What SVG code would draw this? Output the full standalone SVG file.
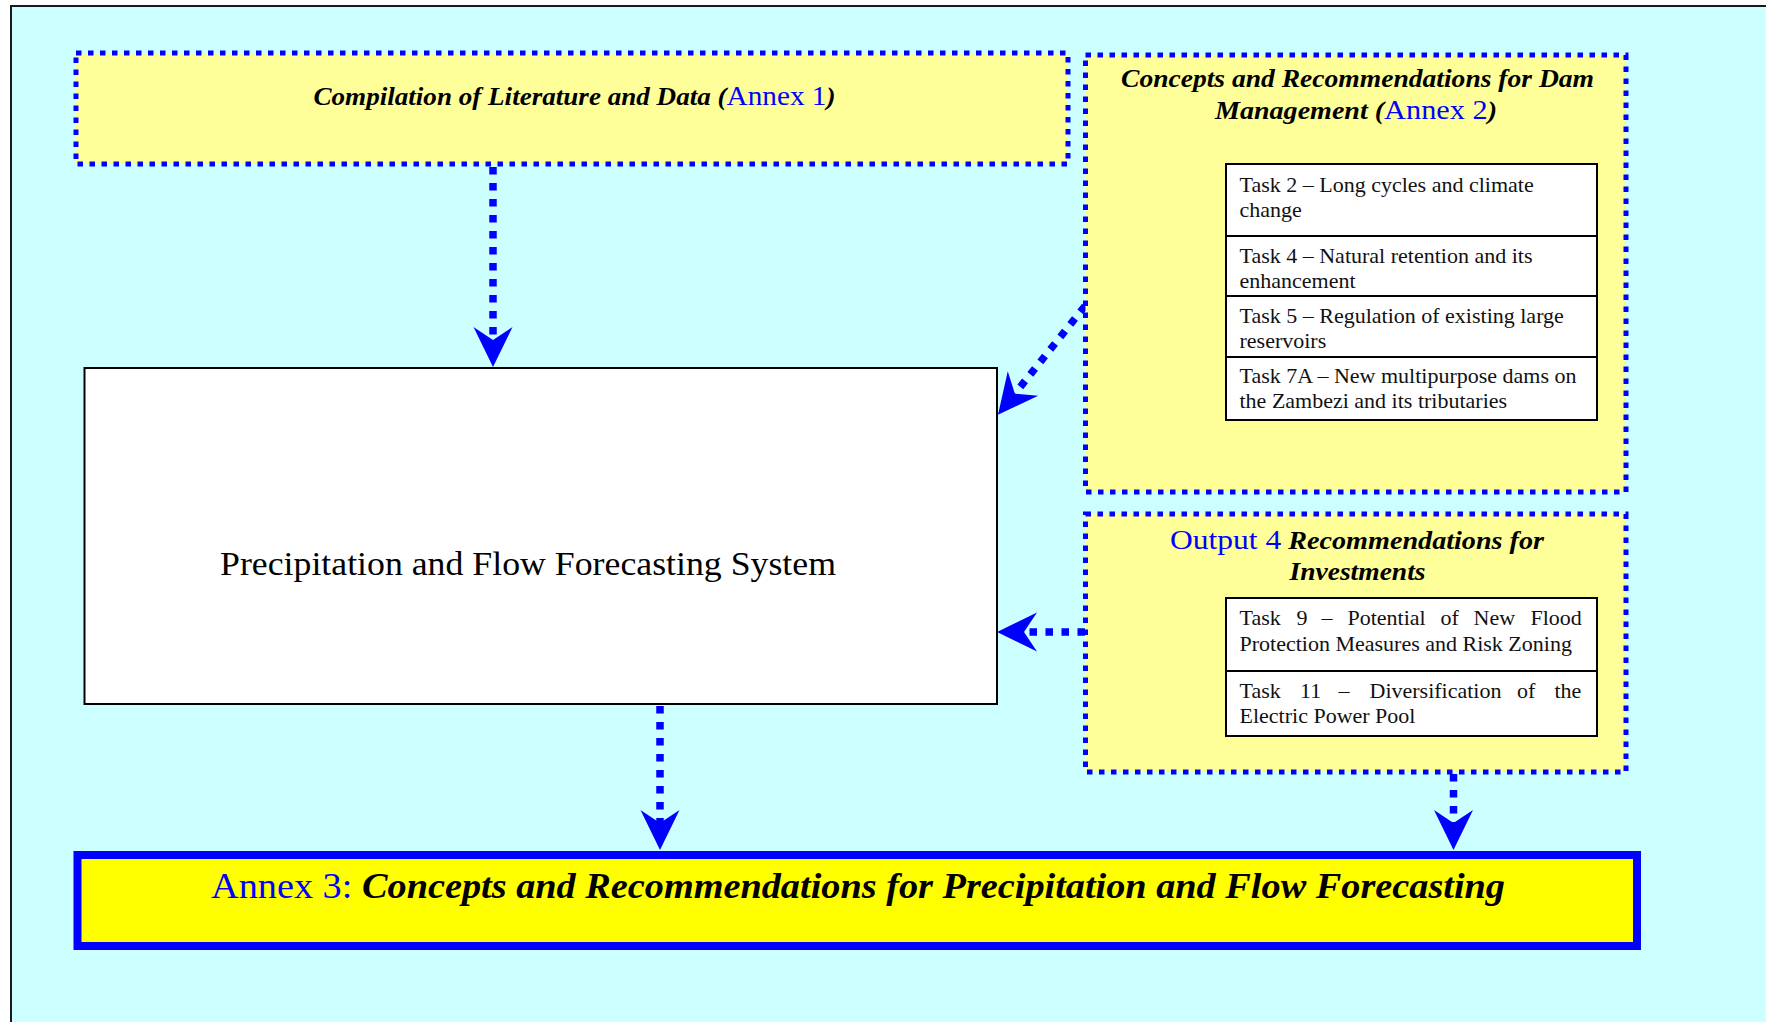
<svg xmlns="http://www.w3.org/2000/svg" width="1766" height="1022" viewBox="0 0 1766 1022">
<style>
.dot{fill:#FFFF99;stroke:#0000FF;stroke-width:5;stroke-dasharray:5.5 6.5}
.task{fill:#FFFFFF;stroke:#000000;stroke-width:2}
.conn{fill:none;stroke:#0000FF;stroke-width:7.5;stroke-dasharray:7.5 8.5}
.t{font-family:"Liberation Serif","Times New Roman",serif;fill:#000}
.bi{font-weight:bold;font-style:italic}
.blue{fill:#0000FF;font-weight:normal;font-style:normal}
.task-t{font-family:"Liberation Serif","Times New Roman",serif;font-size:22px;fill:#111}
</style>
<defs>
<marker id="arr" viewBox="-42 -21 44 42" refX="-24" refY="0" markerWidth="44" markerHeight="42" markerUnits="userSpaceOnUse" orient="auto">
<path d="M0,0 L-40,-19.5 L-27,0 L-40,19.5 Z" fill="#0000FF"/>
</marker>
</defs>
<rect x="0" y="0" width="1766" height="1022" fill="#FFFFFF"/>
<rect x="11" y="6" width="1770" height="1030" fill="#CCFFFF" stroke="#1a1a1a" stroke-width="2"/>

<g id="connectors">
<path class="conn" d="M493,167 L493,343" marker-end="url(#arr)"/>
<path class="conn" d="M1085,306 L1013,396" marker-end="url(#arr)"/>
<path class="conn" d="M1085,632 L1021,632" marker-end="url(#arr)"/>
<path class="conn" d="M660,706 L660,826" marker-end="url(#arr)"/>
<path class="conn" d="M1453.5,774 L1453.5,826" marker-end="url(#arr)"/>
</g>

<g id="compilation">
<rect class="dot" x="76" y="53" width="992" height="111"/>
<text class="t bi" x="574.5" y="105" font-size="25" text-anchor="middle" textLength="522" lengthAdjust="spacingAndGlyphs">Compilation of Literature and Data (<tspan class="blue" font-size="27">Annex 1</tspan>)</text>
</g>

<g id="dam-management">
<rect class="dot" x="1085.5" y="55" width="540.5" height="437"/>
<text class="t bi" x="1357.5" y="87" font-size="25" text-anchor="middle" textLength="473" lengthAdjust="spacingAndGlyphs">Concepts and Recommendations for Dam</text>
<text class="t bi" x="1356" y="119" font-size="25" text-anchor="middle" textLength="282" lengthAdjust="spacingAndGlyphs">Management (<tspan class="blue" font-size="27">Annex 2</tspan>)</text>
</g>

<g id="task2">
<rect class="task" x="1226" y="164" width="371" height="72"/>
<text class="task-t" x="1239.5" y="192">Task 2 – Long cycles and climate</text>
<text class="task-t" x="1239.5" y="217">change</text>
</g>
<g id="task4">
<rect class="task" x="1226" y="236" width="371" height="60"/>
<text class="task-t" x="1239.5" y="263">Task 4 – Natural retention and its</text>
<text class="task-t" x="1239.5" y="288">enhancement</text>
</g>
<g id="task5">
<rect class="task" x="1226" y="296" width="371" height="61"/>
<text class="task-t" x="1239.5" y="323">Task 5 – Regulation of existing large</text>
<text class="task-t" x="1239.5" y="348">reservoirs</text>
</g>
<g id="task7a">
<rect class="task" x="1226" y="357" width="371" height="63"/>
<text class="task-t" x="1239.5" y="383">Task 7A – New multipurpose dams on</text>
<text class="task-t" x="1239.5" y="408">the Zambezi and its tributaries</text>
</g>

<g id="output4">
<rect class="dot" x="1085.5" y="514" width="540.5" height="258"/>
<text class="t bi" x="1357" y="549" font-size="25" text-anchor="middle" textLength="374" lengthAdjust="spacingAndGlyphs"><tspan class="blue" font-size="28">Output 4</tspan> Recommendations for</text>
<text class="t bi" x="1357.5" y="580" font-size="25" text-anchor="middle" textLength="136" lengthAdjust="spacingAndGlyphs">Investments</text>
</g>

<g id="task9">
<rect class="task" x="1226" y="598" width="371" height="73"/>
<text class="task-t" y="625"><tspan x="1239.5">Task</tspan><tspan x="1296.5">9</tspan><tspan x="1321.5">–</tspan><tspan x="1347.5">Potential</tspan><tspan x="1440.5">of</tspan><tspan x="1473.5">New</tspan><tspan x="1530.5">Flood</tspan></text>
<text class="task-t" x="1239.5" y="651">Protection Measures and Risk Zoning</text>
</g>
<g id="task11">
<rect class="task" x="1226" y="671" width="371" height="65"/>
<text class="task-t" y="698"><tspan x="1239.5">Task</tspan><tspan x="1300">11</tspan><tspan x="1338.5">–</tspan><tspan x="1369.5">Diversification</tspan><tspan x="1517">of</tspan><tspan x="1554.5">the</tspan></text>
<text class="task-t" x="1239.5" y="723">Electric Power Pool</text>
</g>

<g id="forecasting-system">
<rect x="84.5" y="368" width="912.5" height="336" fill="#FFFFFF" stroke="#000000" stroke-width="2"/>
<text class="t" x="528" y="575" font-size="34" text-anchor="middle" textLength="616" lengthAdjust="spacingAndGlyphs">Precipitation and Flow Forecasting System</text>
</g>

<g id="annex3">
<rect x="77.5" y="855" width="1559.5" height="91" fill="#FFFF00" stroke="#0000FF" stroke-width="8"/>
<text class="t bi" x="858" y="898" font-size="35" text-anchor="middle" textLength="1294" lengthAdjust="spacingAndGlyphs"><tspan class="blue">Annex 3:</tspan> Concepts and Recommendations for Precipitation and Flow Forecasting</text>
</g>
</svg>
